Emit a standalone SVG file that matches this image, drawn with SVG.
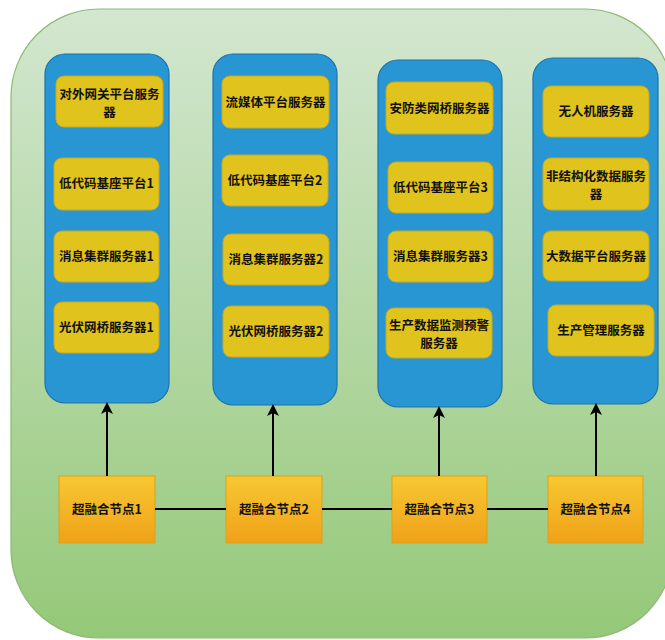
<svg xmlns="http://www.w3.org/2000/svg" width="665" height="640" viewBox="0 0 665 640">
  <defs>
    <linearGradient id="bgGrad" x1="0" y1="0" x2="0" y2="1">
      <stop offset="0" stop-color="#d3e7d0"/>
      <stop offset="1" stop-color="#95c878"/>
    </linearGradient>
    <linearGradient id="nodeGrad" x1="0" y1="0" x2="0" y2="1">
      <stop offset="0" stop-color="#f7c832"/>
      <stop offset="1" stop-color="#f0a118"/>
    </linearGradient>
    <marker id="arrow" viewBox="0 0 12 12" refX="10" refY="6" markerWidth="12" markerHeight="12" markerUnits="userSpaceOnUse" orient="auto">
      <path d="M0,0 L12,6 L0,12 L3,6 Z" fill="#000"/>
    </marker>
    <style>
      .col { fill: #2996d4; stroke: #1d72ad; stroke-width: 1.2; }
      .srv { fill: #e1c31d; stroke: #c9a81e; stroke-width: 1; }
      .hc { fill: url(#nodeGrad); stroke: #d9a11c; stroke-width: 1; }
      .t { font-family: "Noto Sans CJK SC", "Noto Sans", sans-serif; font-weight: bold; font-size: 12.5px; fill: #111; text-anchor: middle; }
      .link { stroke: #000; stroke-width: 2; fill: none; }
    </style>
  </defs>

  <!-- background container -->
  <rect x="11" y="9" width="662" height="629" rx="88" ry="88" fill="url(#bgGrad)" stroke="#8cba72" stroke-width="1.2"/>

  <!-- server columns -->
  <g id="column1">
    <rect class="col" x="45" y="54" width="124" height="349" rx="20"/>
    <g id="srv-gateway"><rect class="srv" x="56" y="76" width="107" height="51" rx="8"/>
      <text class="t" x="109.5" y="99">对外网关平台服务<tspan x="109.5" dy="18">器</tspan></text></g>
    <g id="srv-lowcode1"><rect class="srv" x="54" y="158" width="105" height="52" rx="8"/>
      <text class="t" x="106.5" y="188">低代码基座平台1</text></g>
    <g id="srv-mq1"><rect class="srv" x="54" y="231" width="105" height="51" rx="8"/>
      <text class="t" x="106.5" y="261">消息集群服务器1</text></g>
    <g id="srv-pvbridge1"><rect class="srv" x="54" y="302" width="105" height="51" rx="8"/>
      <text class="t" x="106.5" y="332">光伏网桥服务器1</text></g>
  </g>

  <g id="column2">
    <rect class="col" x="213" y="54" width="124" height="351" rx="20"/>
    <g id="srv-media"><rect class="srv" x="222" y="76" width="107" height="52" rx="8"/>
      <text class="t" x="275.5" y="106.5">流媒体平台服务器</text></g>
    <g id="srv-lowcode2"><rect class="srv" x="222" y="155" width="106" height="51" rx="8"/>
      <text class="t" x="275" y="185">低代码基座平台2</text></g>
    <g id="srv-mq2"><rect class="srv" x="223" y="234" width="106" height="51" rx="8"/>
      <text class="t" x="276" y="264">消息集群服务器2</text></g>
    <g id="srv-pvbridge2"><rect class="srv" x="223" y="306" width="106" height="51" rx="8"/>
      <text class="t" x="276" y="336">光伏网桥服务器2</text></g>
  </g>

  <g id="column3">
    <rect class="col" x="378" y="60" width="124" height="347" rx="20"/>
    <g id="srv-security"><rect class="srv" x="386" y="82" width="107" height="52" rx="8"/>
      <text class="t" x="439.5" y="112.5">安防类网桥服务器</text></g>
    <g id="srv-lowcode3"><rect class="srv" x="388" y="162" width="105" height="51" rx="8"/>
      <text class="t" x="440.5" y="192">低代码基座平台3</text></g>
    <g id="srv-mq3"><rect class="srv" x="388" y="231" width="105" height="51" rx="8"/>
      <text class="t" x="440.5" y="261">消息集群服务器3</text></g>
    <g id="srv-monitor"><rect class="srv" x="386" y="308" width="106" height="50" rx="8"/>
      <text class="t" x="439" y="329.5">生产数据监测预警<tspan x="439" dy="18">服务器</tspan></text></g>
  </g>

  <g id="column4">
    <rect class="col" x="533" y="58" width="125" height="346" rx="20"/>
    <g id="srv-uav"><rect class="srv" x="543" y="86" width="106" height="51" rx="8"/>
      <text class="t" x="596" y="116">无人机服务器</text></g>
    <g id="srv-unstructured"><rect class="srv" x="543" y="158" width="106" height="52" rx="8"/>
      <text class="t" x="596" y="180.5">非结构化数据服务<tspan x="596" dy="18">器</tspan></text></g>
    <g id="srv-bigdata"><rect class="srv" x="543" y="231" width="106" height="50" rx="8"/>
      <text class="t" x="596" y="260.5">大数据平台服务器</text></g>
    <g id="srv-production"><rect class="srv" x="548" y="305" width="106" height="51" rx="8"/>
      <text class="t" x="601" y="335">生产管理服务器</text></g>
  </g>

  <!-- hyper-converged nodes -->
  <g id="hc1"><rect class="hc" x="59" y="476" width="96" height="67"/>
    <text class="t" x="107" y="514">超融合节点1</text></g>
  <g id="hc2"><rect class="hc" x="226" y="476" width="96" height="67"/>
    <text class="t" x="274" y="514">超融合节点2</text></g>
  <g id="hc3"><rect class="hc" x="392" y="476" width="95" height="67"/>
    <text class="t" x="439.5" y="514">超融合节点3</text></g>
  <g id="hc4"><rect class="hc" x="548" y="476" width="95" height="67"/>
    <text class="t" x="595.5" y="514">超融合节点4</text></g>

  <!-- connectors -->
  <g id="connectors">
    <line class="link" x1="107" y1="476" x2="107" y2="404" marker-end="url(#arrow)"/>
    <line class="link" x1="273" y1="476" x2="273" y2="406" marker-end="url(#arrow)"/>
    <line class="link" x1="439" y1="476" x2="439" y2="408" marker-end="url(#arrow)"/>
    <line class="link" x1="596" y1="476" x2="596" y2="405" marker-end="url(#arrow)"/>
    <line class="link" x1="155" y1="509" x2="226" y2="509"/>
    <line class="link" x1="322" y1="509" x2="392" y2="509"/>
    <line class="link" x1="487" y1="509" x2="548" y2="509"/>
  </g>
</svg>
